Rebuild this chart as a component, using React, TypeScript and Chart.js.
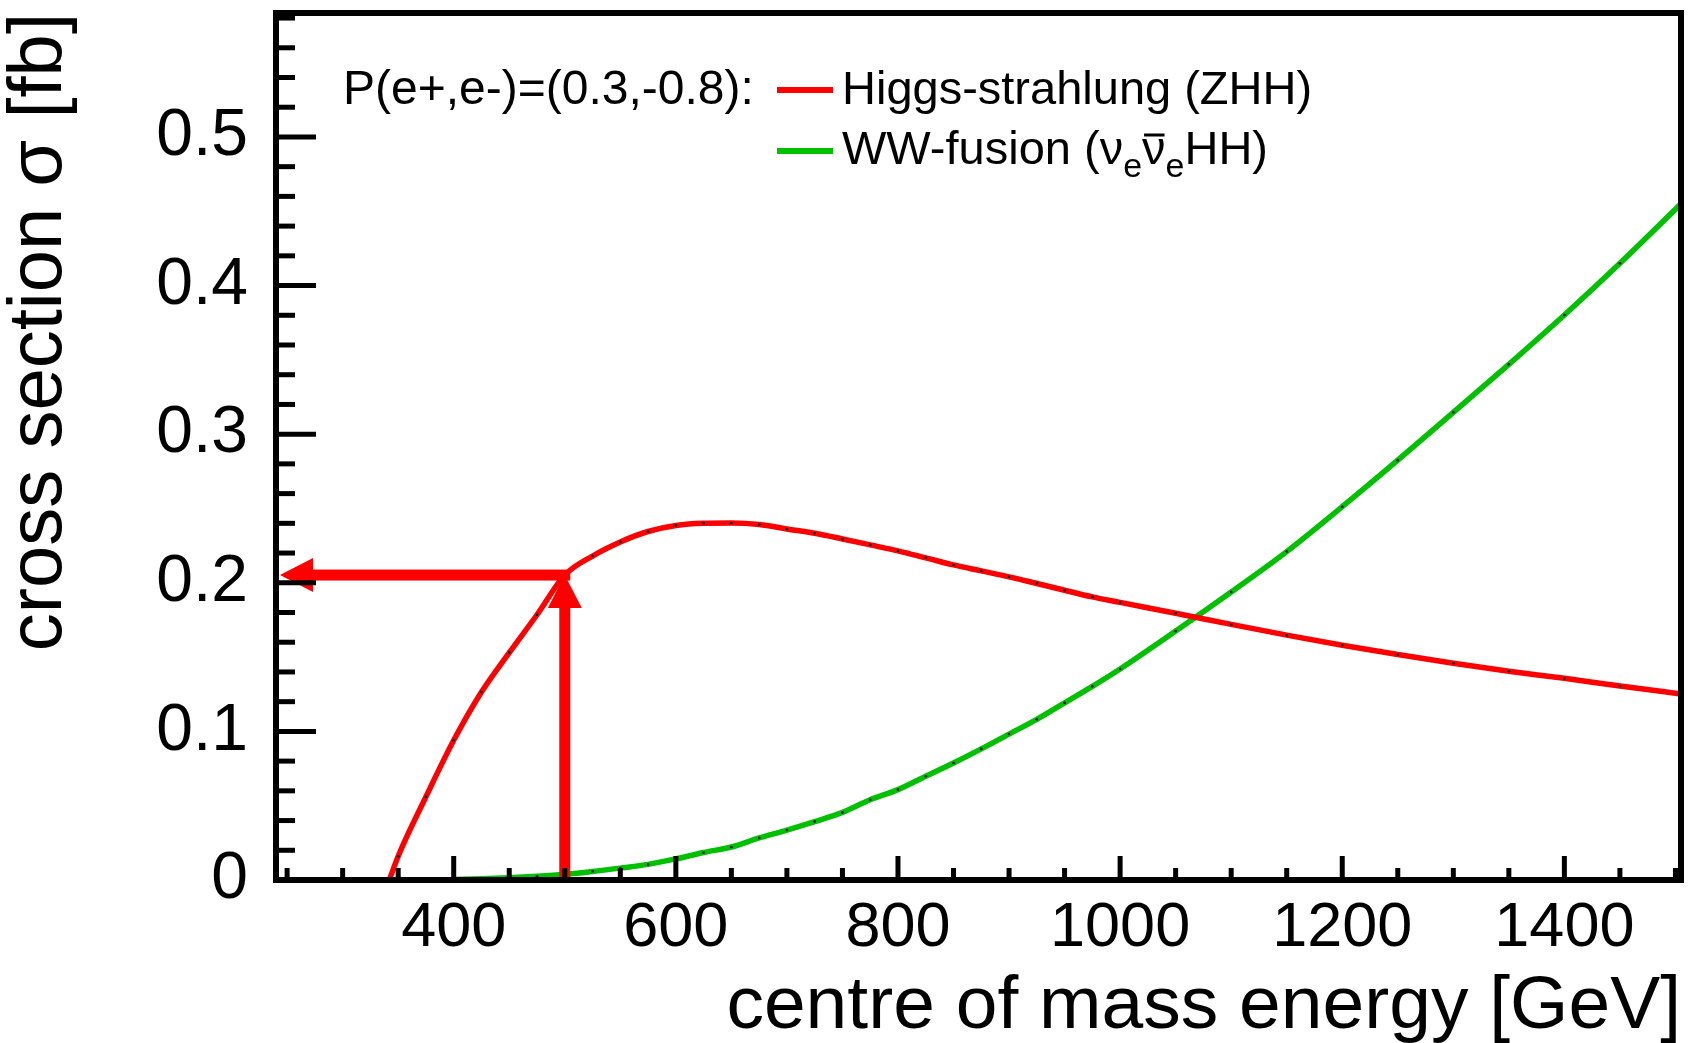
import React, { useEffect, useRef } from "react";
import { Chart, registerables } from "chart.js";

Chart.register(...registerables);

// ---------- data ----------
const ZHH_ENERGY = [342, 350, 375, 400, 425, 450, 475, 500, 525, 550, 575, 600, 625, 650, 675, 700, 725, 750, 775, 800, 825, 850, 875, 900, 925, 950, 975, 1000, 1050, 1100, 1150, 1200, 1250, 1300, 1350, 1400, 1450, 1505];
const ZHH_XSEC = [0, 0.016, 0.056, 0.094, 0.1265, 0.153, 0.1785, 0.2052, 0.218, 0.2275, 0.2345, 0.2385, 0.24, 0.2402, 0.2392, 0.2362, 0.2333, 0.2295, 0.2255, 0.2215, 0.2168, 0.212, 0.208, 0.204, 0.1995, 0.195, 0.1905, 0.1868, 0.1795, 0.172, 0.1648, 0.158, 0.1517, 0.1458, 0.1405, 0.1357, 0.1305, 0.1252];

const WW_ENERGY = [400, 425, 450, 475, 500, 525, 550, 575, 600, 625, 650, 675, 700, 725, 750, 775, 800, 825, 850, 875, 900, 925, 950, 975, 1000, 1050, 1100, 1150, 1200, 1250, 1300, 1350, 1400, 1450, 1505];
const WW_XSEC = [0.0003, 0.0008, 0.0015, 0.0025, 0.0038, 0.0057, 0.008, 0.0105, 0.0142, 0.0185, 0.0222, 0.0283, 0.0336, 0.0393, 0.0455, 0.054, 0.0608, 0.0698, 0.0787, 0.0882, 0.0982, 0.1081, 0.1192, 0.1303, 0.142, 0.1675, 0.1938, 0.221, 0.2512, 0.2825, 0.3147, 0.347, 0.3802, 0.415, 0.455];

const X_RANGE = [240, 1505];
const Y_RANGE = [0, 0.5834];

const X_TICKS = [400, 600, 800, 1000, 1200, 1400];
const X_TICK_LABELS = ["400", "600", "800", "1000", "1200", "1400"];
const X_MINOR_TICKS = [250, 300, 350, 450, 500, 550, 650, 700, 750, 850, 900, 950, 1050, 1100, 1150, 1250, 1300, 1350, 1450, 1500];

const Y_TICKS = [0, 0.1, 0.2, 0.3, 0.4, 0.5];
const Y_TICK_LABELS = ["0", "0.1", "0.2", "0.3", "0.4", "0.5"];
const Y_MINOR_TICKS = [0.02, 0.04, 0.06, 0.08, 0.12, 0.14, 0.16, 0.18, 0.22, 0.24, 0.26, 0.28, 0.32, 0.34, 0.36, 0.38, 0.42, 0.44, 0.46, 0.48, 0.52, 0.54, 0.56, 0.58];

// arrow marking the 500 GeV working point
const ARROW_ENERGY = [500];
const ARROW_XSEC = [0.2052];

const X_TITLE = "centre of mass energy [GeV]";
const Y_TITLE = "cross section σ [fb]";
const POLARISATION = "P(e+,e-)=(0.3,-0.8):";
const ZHH_LABEL = "Higgs-strahlung (ZHH)";
const WW_LABEL_PARTS = ["WW-fusion (ν", "e", "ν", "e", "HH)"];

const RED = "#ff0000";
const GREEN = "#00c000";
const FONT = '"Liberation Sans", Arial, Helvetica, sans-serif';

const decorPlugin = {
  id: "decor",
  afterDatasetsDraw(chart: any) {
    const { ctx } = chart;
    const xs = chart.scales.x;
    const ys = chart.scales.y;
    const ax = xs.getPixelForValue(ARROW_ENERGY[0]);
    const ay = ys.getPixelForValue(ARROW_XSEC[0]);
    const y0 = ys.getPixelForValue(0);
    const xL = xs.getPixelForValue(X_RANGE[0]) + 4;
    const headL = 33;
    const headW = 17;
    const shaft = 11;
    ctx.save();
    ctx.fillStyle = RED;
    // vertical arrow
    ctx.fillRect(ax - shaft / 2, ay + headL - 2, shaft, y0 - (ay + headL - 2));
    ctx.beginPath();
    ctx.moveTo(ax, ay);
    ctx.lineTo(ax - headW, ay + headL);
    ctx.lineTo(ax + headW, ay + headL);
    ctx.closePath();
    ctx.fill();
    // horizontal arrow
    ctx.fillRect(xL + headL - 2, ay - shaft / 2, ax + shaft / 2 - (xL + headL - 2), shaft);
    ctx.beginPath();
    ctx.moveTo(xL, ay);
    ctx.lineTo(xL + headL, ay - headW);
    ctx.lineTo(xL + headL, ay + headW);
    ctx.closePath();
    ctx.fill();
    ctx.restore();
  },
  afterDraw(chart: any) {
    const { ctx, chartArea } = chart;
    const xs = chart.scales.x;
    const ys = chart.scales.y;
    const { left, right, top, bottom } = chartArea;
    ctx.save();
    ctx.strokeStyle = "#000";
    ctx.lineCap = "butt";
    // inner ticks
    ctx.lineWidth = 5;
    const tick = (x1: number, y1: number, x2: number, y2: number) => {
      ctx.beginPath();
      ctx.moveTo(x1, y1);
      ctx.lineTo(x2, y2);
      ctx.stroke();
    };
    X_TICKS.forEach((v) => { const p = xs.getPixelForValue(v); tick(p, bottom, p, bottom - 24); });
    X_MINOR_TICKS.forEach((v) => { const p = xs.getPixelForValue(v); tick(p, bottom, p, bottom - 12); });
    Y_TICKS.forEach((v) => { const p = ys.getPixelForValue(v); tick(left, p, left + 40, p); });
    Y_MINOR_TICKS.forEach((v) => { const p = ys.getPixelForValue(v); tick(left, p, left + 19, p); });
    // frame
    ctx.lineWidth = 6;
    ctx.strokeRect(left, top, right - left, bottom - top);

    // legend
    ctx.fillStyle = "#000";
    ctx.textBaseline = "alphabetic";
    ctx.textAlign = "left";
    ctx.font = `48px ${FONT}`;
    ctx.fillText(POLARISATION, 343, 104);
    ctx.lineWidth = 6;
    ctx.strokeStyle = RED;
    tick(777, 90, 833, 90);
    ctx.strokeStyle = GREEN;
    tick(777, 151, 833, 151);
    ctx.font = `47px ${FONT}`;
    ctx.fillText(ZHH_LABEL, 842, 104);

    let x = 842;
    const base = 164;
    const big = `47px ${FONT}`;
    const small = `34px ${FONT}`;
    ctx.font = big;
    ctx.fillText(WW_LABEL_PARTS[0], x, base);
    x += ctx.measureText(WW_LABEL_PARTS[0]).width;
    ctx.font = small;
    ctx.fillText(WW_LABEL_PARTS[1], x, base + 13);
    x += ctx.measureText(WW_LABEL_PARTS[1]).width;
    ctx.font = big;
    ctx.fillText(WW_LABEL_PARTS[2], x, base);
    const nuW = ctx.measureText(WW_LABEL_PARTS[2]).width;
    ctx.strokeStyle = "#000";
    ctx.lineWidth = 3;
    tick(x + 2, base - 29, x + nuW - 1, base - 29);
    x += nuW;
    ctx.font = small;
    ctx.fillText(WW_LABEL_PARTS[3], x, base + 13);
    x += ctx.measureText(WW_LABEL_PARTS[3]).width;
    ctx.font = big;
    ctx.fillText(WW_LABEL_PARTS[4], x, base);
    ctx.restore();
  },
};

export default function App() {
  const ref = useRef<HTMLCanvasElement | null>(null);
  useEffect(() => {
    if (!ref.current) return;
    const chart = new Chart(ref.current, {
      type: "line",
      data: {
        datasets: [
          {
            label: ZHH_LABEL,
            data: ZHH_ENERGY.map((e, i) => ({ x: e, y: ZHH_XSEC[i] })),
            borderColor: RED,
            borderWidth: 5.5,
            pointRadius: 1.3,
            pointBackgroundColor: "#000",
            pointBorderWidth: 0,
            cubicInterpolationMode: "monotone",
            fill: false,
          },
          {
            label: "WW-fusion",
            data: WW_ENERGY.map((e, i) => ({ x: e, y: WW_XSEC[i] })),
            borderColor: GREEN,
            borderWidth: 5.5,
            pointRadius: 1.3,
            pointBackgroundColor: "#000",
            pointBorderWidth: 0,
            cubicInterpolationMode: "monotone",
            fill: false,
          },
        ],
      },
      options: {
        responsive: false,
        animation: false,
        devicePixelRatio: 1,
        events: [],
        layout: { padding: { top: 13, right: 9, left: 0, bottom: 0 } },
        plugins: { legend: { display: false }, tooltip: { enabled: false } },
        scales: {
          x: {
            type: "linear",
            min: X_RANGE[0],
            max: X_RANGE[1],
            grid: { display: false, drawTicks: false },
            border: { display: false },
            afterBuildTicks: (s: any) => { s.ticks = X_TICKS.map((v) => ({ value: v })); },
            afterFit: (s: any) => { s.height = 163; s.paddingLeft = 0; s.paddingRight = 0; },
            ticks: {
              autoSkip: false,
              maxRotation: 0,
              padding: 11,
              color: "#000",
              font: { family: FONT, size: 63 },
              callback: (_v: any, i: number) => X_TICK_LABELS[i],
            },
            title: {
              display: true,
              text: X_TITLE,
              align: "end",
              color: "#000",
              font: { family: FONT, size: 75 },
              padding: { top: 0, bottom: -9 },
            },
          },
          y: {
            type: "linear",
            min: Y_RANGE[0],
            max: Y_RANGE[1],
            grid: { display: false, drawTicks: false },
            border: { display: false },
            afterBuildTicks: (s: any) => { s.ticks = Y_TICKS.map((v) => ({ value: v })); },
            afterFit: (s: any) => { s.width = 276; s.paddingTop = 0; s.paddingBottom = 0; },
            ticks: {
              autoSkip: false,
              padding: 28,
              color: "#000",
              font: { family: FONT, size: 66 },
              callback: (_v: any, i: number) => Y_TICK_LABELS[i],
            },
            title: {
              display: true,
              text: Y_TITLE,
              align: "end",
              color: "#000",
              font: { family: FONT, size: 76 },
              padding: { top: -6, bottom: 0 },
            },
          },
        },
      },
      plugins: [decorPlugin],
    } as any);
    return () => chart.destroy();
  }, []);
  return (
    <div style={{ position: "absolute", left: 0, top: 0, width: 1690, height: 1043, background: "#fff" }}>
      <canvas ref={ref} width={1690} height={1043} style={{ display: "block", width: 1690, height: 1043 }} />
    </div>
  );
}
